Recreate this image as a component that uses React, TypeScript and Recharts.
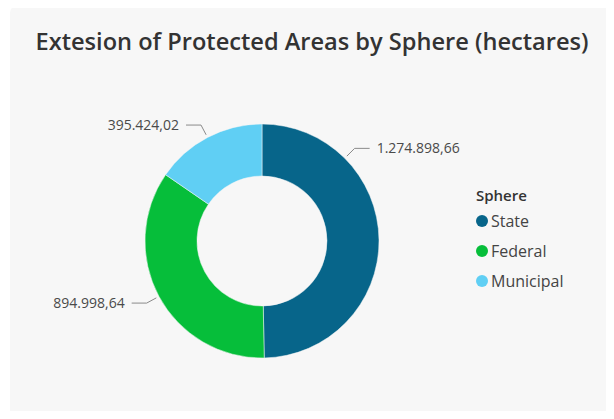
import React from 'react';
import { PieChart, Pie, Cell } from 'recharts';

const categories = ['State', 'Federal', 'Municipal'];
const values = [1274898.66, 894998.64, 395424.02];
const colors = ['#07658A', '#06BE3A', '#60CFF4'];
const title = 'Extesion of Protected Areas by Sphere (hectares)';
const legendTitle = 'Sphere';

const data = categories.map((name, i) => ({ name, value: values[i] }));

function fmt(v: number): string {
  const fixed = v.toFixed(2);
  const [intPart, dec] = fixed.split('.');
  const withDots = intPart.replace(/\B(?=(\d{3})+(?!\d))/g, '.');
  return withDots + ',' + dec;
}

const RAD = Math.PI / 180;

const renderLabel = (props: any) => {
  const { cx, cy, midAngle, outerRadius, index, value } = props;
  const angle = index === 0 ? 45 : midAngle;
  const cos = Math.cos(-angle * RAD);
  const sin = Math.sin(-angle * RAD);
  const sx = cx + (outerRadius + 3) * cos;
  const sy = cy + (outerRadius + 3) * sin;
  const mx = cx + (outerRadius + 14) * cos;
  const my = cy + (outerRadius + 14) * sin;
  const right = cos >= 0;
  const ex = mx + (right ? 15 : -15);
  const ey = my;
  const tx = ex + (right ? 7 : -7);
  return (
    <g>
      <polyline
        points={`${sx},${sy} ${mx},${my} ${ex},${ey}`}
        fill="none"
        stroke="#8a8a8a"
        strokeWidth={1}
      />
      <text
        x={tx}
        y={ey}
        dy={5}
        textAnchor={right ? 'start' : 'end'}
        fill="#4a4a4a"
        fontSize={14}
        fontFamily="'Open Sans', sans-serif"
      >
        {fmt(value)}
      </text>
    </g>
  );
};

function LegendBox() {
  return (
    <div
      style={{
        position: 'absolute',
        left: 476,
        top: 184,
        fontFamily: "'Open Sans', sans-serif",
      }}
    >
      <div style={{ fontSize: 15, fontWeight: 600, color: '#333', lineHeight: '22px', marginBottom: 0 }}>
        {legendTitle}
      </div>
      {categories.map((name, i) => (
        <div
          key={name}
          style={{ display: 'flex', alignItems: 'center', height: 30, fontSize: 16, color: '#444' }}
        >
          <span
            style={{
              display: 'inline-block',
              width: 12,
              height: 12,
              borderRadius: 6,
              background: colors[i],
              marginRight: 3,
            }}
          />
          <span>{name}</span>
        </div>
      ))}
    </div>
  );
}

export default function App() {
  return (
    <div style={{ position: 'relative', width: 614, height: 419, margin: -8, overflow: 'hidden', background: '#fff' }}>
      <div
        style={{
          position: 'absolute',
          left: 10,
          top: 5,
          width: 640,
          height: 450,
          background: '#f7f7f7',
          borderRadius: 8,
        }}
      />
      <div
        style={{
          position: 'absolute',
          left: 10,
          width: 604,
          top: 25,
          textAlign: 'center',
          fontFamily: "'Open Sans', sans-serif",
          fontWeight: 600,
          fontSize: 23.6,
          lineHeight: '32px',
          color: '#333',
          whiteSpace: 'nowrap',
        }}
      >
        {title}
      </div>
      <div style={{ position: 'absolute', left: 0, top: 0 }}>
        <PieChart width={614} height={419} margin={{ top: 0, right: 0, bottom: 0, left: 0 }}>
          <Pie
            data={data}
            dataKey="value"
            nameKey="name"
            cx={262}
            cy={241}
            innerRadius={65}
            outerRadius={117}
            startAngle={90}
            endAngle={-270}
            stroke="#f7f7f7"
            strokeWidth={0.5}
            label={renderLabel}
            labelLine={false}
            isAnimationActive={false}
          >
            {data.map((d, i) => (
              <Cell key={d.name} fill={colors[i]} />
            ))}
          </Pie>
        </PieChart>
      </div>
      <LegendBox />
    </div>
  );
}
